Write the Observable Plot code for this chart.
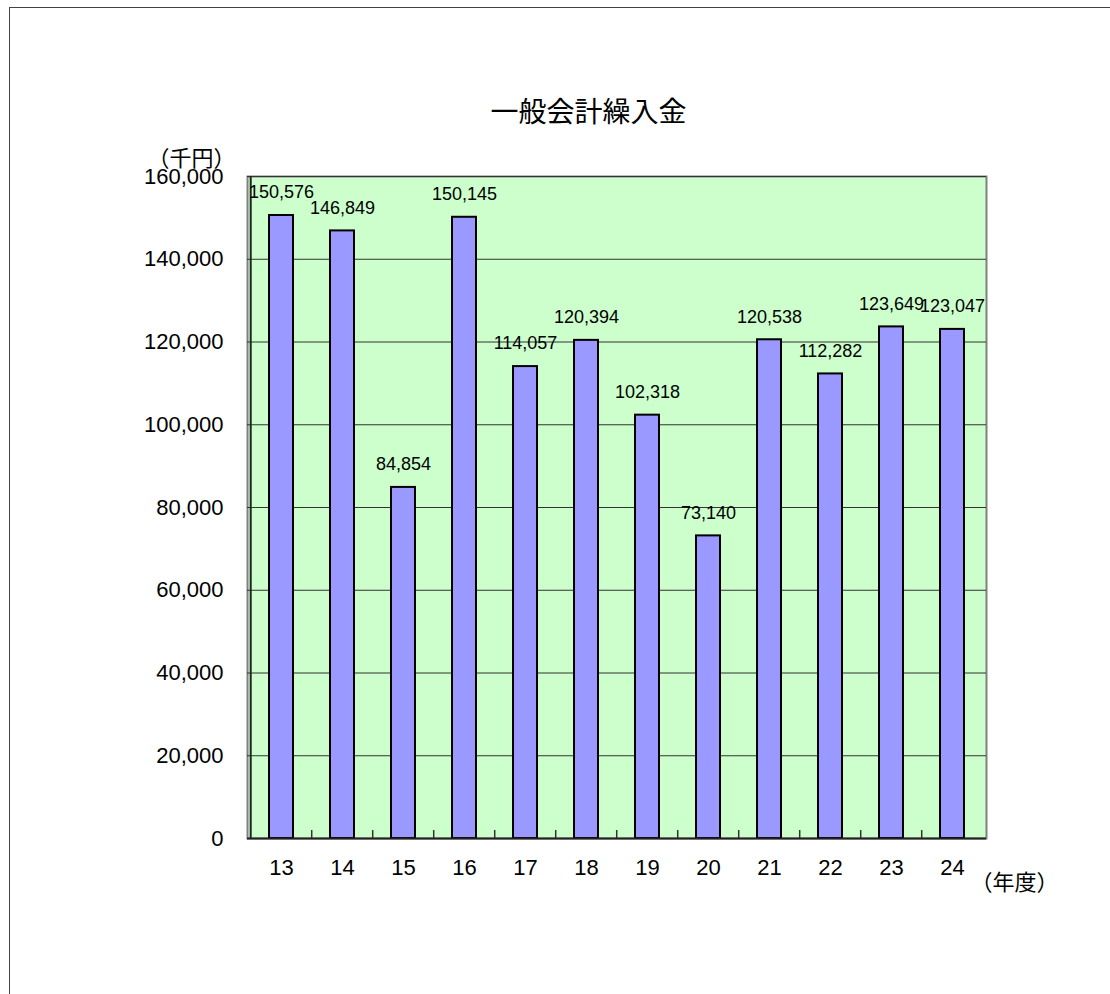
<!DOCTYPE html>
<html>
<head>
<meta charset="utf-8">
<script src="https://cdn.jsdelivr.net/npm/d3@7"></script>
<script src="https://cdn.jsdelivr.net/npm/@observablehq/plot@0.6"></script>
<style>
  html, body { margin: 0; padding: 0; background: #fff; }
  #chart svg { display: block; }
</style>
</head>
<body>
<div id="chart"></div>
<script>
const years = ["13", "14", "15", "16", "17", "18", "19", "20", "21", "22", "23", "24"];
const values = [150576, 146849, 84854, 150145, 114057, 120394, 102318, 73140, 120538, 112282, 123649, 123047];
const yTicks = [0, 20000, 40000, 60000, 80000, 100000, 120000, 140000, 160000];
const title = "一般会計繰入金";
const yUnit = "（千円）";
const xUnit = "（年度）";

const data = years.map((year, i) => ({ year, value: values[i] }));
const fmt = d3.format(",");
const step = (1110 - 247 - 124) / years.length;

const chart = Plot.plot({
  width: 1110,
  height: 994,
  marginLeft: 247,
  marginRight: 124,
  marginTop: 176,
  marginBottom: 156,
  style: { fontFamily: "'Liberation Sans', Arial, sans-serif", background: "white", color: "black", overflow: "visible" },
  x: { domain: years, paddingInner: 0.6, paddingOuter: 0.3, label: null, tickSize: 0, tickPadding: 21, fontSize: 22 },
  y: { domain: [0, 160000], ticks: yTicks, tickFormat: fmt, label: null, tickSize: 0, tickPadding: 24 },
  marks: [
    Plot.frame({ fill: "#CCFFCC", stroke: "#808080", strokeWidth: 2 }),
    Plot.gridY(yTicks, { stroke: "#333", strokeOpacity: 1, strokeWidth: 1 }),
    Plot.ruleX(years.slice(1), { dx: -step / 2, insetTop: 838 - 176 - 8, stroke: "#333", strokeWidth: 1.5 }),
    Plot.barY(data, { x: "year", y: "value", fill: "#9999FF", stroke: "black", strokeWidth: 2 }),
    Plot.ruleY([0], { stroke: "#222", strokeWidth: 2 }),
    Plot.ruleX([years[0]], { dx: -step / 2, stroke: "#222", strokeWidth: 2 }),
    Plot.text(data, { x: "year", y: "value", text: d => fmt(d.value), dy: -23, fontSize: 18, fill: "black" }),
    Plot.axisX({ tickSize: 0, tickPadding: 21, fontSize: 22, label: null }),
    Plot.axisY({ ticks: yTicks, tickFormat: fmt, tickSize: 0, tickPadding: 24, fontSize: 22, label: null }),
    Plot.text([title], { frameAnchor: "top", dx: -28.5, dy: -74, fontSize: 28, fontFamily: "'Noto Sans CJK JP', sans-serif", fill: "black" }),
    Plot.text([yUnit], { frameAnchor: "top-left", dx: -56, dy: -26, fontSize: 22, textAnchor: "middle", fontFamily: "'Noto Sans CJK JP', sans-serif", fill: "black" }),
    Plot.text([xUnit], { frameAnchor: "bottom-right", dx: 28, dy: 51, fontSize: 22, textAnchor: "middle", fontFamily: "'Noto Sans CJK JP', sans-serif", fill: "black" })
  ]
});

d3.select(chart).append("rect")
  .attr("x", 9.5).attr("y", 7.5)
  .attr("width", 1200).attr("height", 1200)
  .attr("fill", "none").attr("stroke", "#444").attr("stroke-width", 1);

document.getElementById("chart").appendChild(chart);
</script>
</body>
</html>
